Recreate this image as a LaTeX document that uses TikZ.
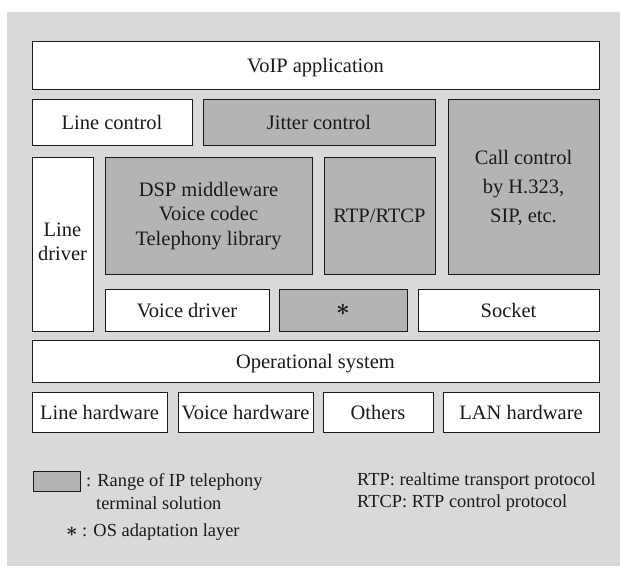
\documentclass[tikz,border=0pt]{standalone}
\usepackage{fontspec}
\setmainfont{Liberation Serif}
\definecolor{bgc}{HTML}{D9D9D9}
\definecolor{shade}{HTML}{B4B4B4}
\definecolor{ink}{HTML}{1A1A1A}
\newcommand{\bigast}[1]{\raisebox{-0.05ex}{\scalebox{#1}{$\boldsymbol{\ast}$}}}
\usepackage{amsmath}
\begin{document}
\begin{tikzpicture}[x=1pt,y=-1pt,
  base/.style={draw=ink,line width=0.9pt,inner sep=0pt,outer sep=0pt,text=ink,
    font=\fontsize{20.5}{24.5}\selectfont,align=center},
  one/.style={text height=14pt,text depth=0pt},
  wbox/.style={base,fill=white},
  gbox/.style={base,fill=shade},
  legend/.style={inner sep=0pt,text=ink,font=\fontsize{18.4}{22}\selectfont,anchor=west}]
\useasboundingbox (0,0) rectangle (620,566);
\fill[bgc] (7,12) rectangle (620,566);
\node[wbox,one,minimum width=567,minimum height=48] (app) at (315.5,65) {VoIP application};
\node[wbox,one,minimum width=160,minimum height=46] (linectl) at (112,122) {Line control};
\node[gbox,one,minimum width=232,minimum height=46] (jitter) at (319,122) {Jitter control};
\node[gbox,minimum width=151,minimum height=175] (call) at (523.5,186.5) {};
\node[text=ink,font=\fontsize{20.5}{29}\selectfont,align=center,inner sep=0pt] (calltxt) at (523.5,187.5) {Call control\\by H.323,\\SIP, etc.};
\node[wbox,minimum width=61,minimum height=174] (linedrv) at (62.5,244) {};
\node[text=ink,font=\fontsize{20.5}{24}\selectfont,align=center,inner sep=0pt] (linedrvtxt) at (62.5,242) {Line\\driver};
\node[gbox,minimum width=207,minimum height=117] (dsp) at (208.5,215.5) {};
\node[text=ink,font=\fontsize{20.5}{24.5}\selectfont,align=center,inner sep=0pt] (dsptxt) at (208.5,216) {DSP middleware\\Voice codec\\Telephony library};
\node[gbox,one,minimum width=111,minimum height=117] (rtp) at (379.5,215.5) {RTP/RTCP};
\node[wbox,one,minimum width=164,minimum height=42] (voicedrv) at (187,310) {Voice driver};
\node[gbox,minimum width=128,minimum height=42] (star) at (343,310) {\bigast{1.15}};
\node[wbox,one,minimum width=181,minimum height=42] (socket) at (508.5,310) {Socket};
\node[wbox,one,minimum width=567,minimum height=42] (os) at (315.5,361) {Operational system};
\node[wbox,one,minimum width=135,minimum height=40] (linehw) at (99.5,412) {Line hardware};
\node[wbox,one,minimum width=135,minimum height=40] (voicehw) at (245.5,412) {Voice hardware};
\node[wbox,one,minimum width=110,minimum height=40] (others) at (378,412) {Others};
\node[wbox,one,minimum width=156,minimum height=40] (lanhw) at (521,412) {LAN hardware};
% legend
\node[gbox,minimum width=47,minimum height=20] (legsq) at (56.5,481) {};
\node[legend] (leg1) at (86,482) {: Range of IP telephony};
\node[legend] (leg2) at (96,503) {terminal solution};
\node[legend] (leg3) at (66,532) {\bigast{1.15}\ : OS adaptation layer};
\node[legend] (leg4) at (357,481) {RTP: realtime transport protocol};
\node[legend] (leg5) at (357,503) {RTCP: RTP control protocol};
\end{tikzpicture}
\end{document}
